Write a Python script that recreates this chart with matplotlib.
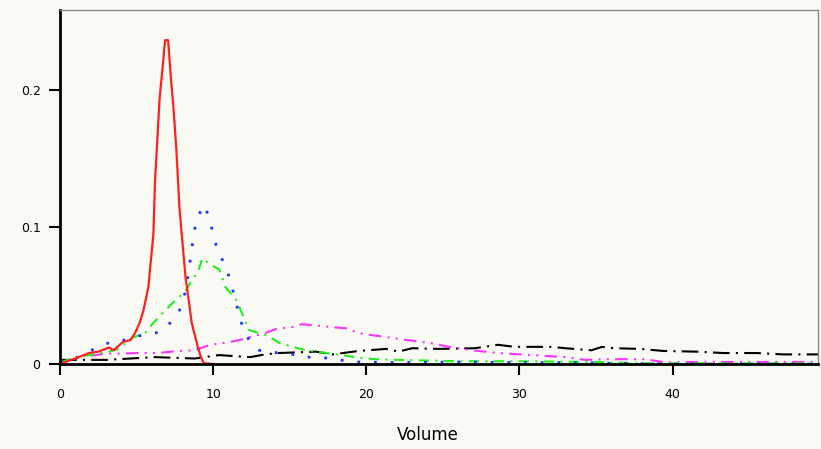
import matplotlib
matplotlib.use("Agg")
import matplotlib.pyplot as plt

# valores
red_x = [0, 0.2, 1.0, 1.9, 2.5, 3.2, 3.5, 4.1, 4.6, 4.9, 5.2, 5.45, 5.77, 6.1, 6.2, 6.5,
         6.75, 6.86, 7.06, 7.23, 7.4, 7.6, 7.8, 8.0, 8.2, 8.4, 8.6, 9.0, 9.2, 9.4, 10.0]
red_y = [0, 0.001, 0.004, 0.008, 0.009, 0.012, 0.010, 0.016, 0.0175, 0.0225, 0.030, 0.039,
         0.056, 0.095, 0.132, 0.193, 0.222, 0.236, 0.236, 0.210, 0.188, 0.156, 0.114, 0.088,
         0.063, 0.047, 0.030, 0.0125, 0.005, 0.0005, 0.0]

blue_x = [0, 1.0, 2.5, 3.2, 3.8, 4.9, 6.4, 6.9, 7.4, 7.8, 8.2, 8.4, 8.6, 8.9, 9.4, 9.7,
          10.3, 10.6, 11.0, 11.3, 11.6, 11.9, 12.2, 12.5, 13.0, 13.6, 14.3, 15.6, 16.1, 17,
          18.2, 19.3, 22, 26, 30, 34, 36, 40, 49.5]
blue_y = [0.002, 0.004, 0.0125, 0.0155, 0.016, 0.020, 0.023, 0.027, 0.032, 0.039, 0.053,
          0.067, 0.084, 0.105, 0.116, 0.108, 0.082, 0.076, 0.065, 0.053, 0.040, 0.028, 0.020,
          0.0155, 0.010, 0.009, 0.008, 0.0065, 0.005, 0.005, 0.003, 0.0015, 0.001, 0.0015,
          0.001, 0.001, 0.0005, 0, 0]

green_x = [0, 1.0, 1.9, 3.2, 3.8, 4.7, 5.6, 6.1, 6.7, 7.4, 8.2, 8.6, 9.0, 9.3, 9.9, 10.4,
           10.8, 11.5, 12.0, 12.3, 13.0, 13.5, 13.8, 14.3, 15.2, 16.1, 17.4, 18.4, 19.5,
           20.6, 22.1, 26, 30, 35, 38, 49.5]
green_y = [0.001, 0.005, 0.0065, 0.009, 0.011, 0.019, 0.023, 0.030, 0.037, 0.045, 0.053,
           0.061, 0.067, 0.077, 0.072, 0.069, 0.056, 0.047, 0.034, 0.025, 0.0225, 0.021,
           0.019, 0.0155, 0.0125, 0.010, 0.008, 0.0065, 0.0045, 0.0035, 0.003, 0.002, 0.002,
           0.0015, 0.0005, 0.0005]

magenta_x = [2.0, 2.9, 3.8, 5.1, 6.4, 7.7, 8.8, 9.8, 11.1, 11.9, 13.4, 14.1, 15.2, 15.8,
             16.8, 17.6, 18.7, 19.5, 20.4, 21.7, 22.6, 24.1, 25.4, 26.9, 28.6, 30.8, 33.0,
             34.3, 35.6, 38.2, 39.5, 41.6, 49.5]
magenta_y = [0.006, 0.0075, 0.0075, 0.008, 0.008, 0.0095, 0.010, 0.014, 0.016, 0.018,
             0.0225, 0.0255, 0.027, 0.029, 0.028, 0.027, 0.026, 0.0225, 0.021, 0.019, 0.0175,
             0.0155, 0.0125, 0.010, 0.008, 0.0065, 0.005, 0.003, 0.0035, 0.0035, 0.0012,
             0.0015, 0.0015]

black_x = [0, 3, 6.2, 8.8, 10.4, 12.4, 13.4, 14.3, 16.7, 17.8, 19.5, 21.3, 22.1, 23, 24.7,
           27.1, 28.6, 29.7, 32.1, 33, 34.7, 35.4, 36.2, 37.9, 39.4, 41.6, 43.3, 45.5, 47.2,
           49.5]
black_y = [0.003, 0.003, 0.005, 0.004, 0.0065, 0.005, 0.007, 0.008, 0.009, 0.007, 0.0095,
           0.011, 0.009, 0.0115, 0.011, 0.0115, 0.014, 0.0125, 0.0125, 0.0115, 0.010, 0.0125,
           0.0115, 0.011, 0.0095, 0.009, 0.008, 0.008, 0.007, 0.007]

x_ticks = [0, 10, 20, 30, 40]
y_ticks = [0, 0.1, 0.2]
y_tick_labels = ["0", "0.1", "0.2"]

bg = "#fafaf4"
fig = plt.figure(figsize=(8.21, 4.49), dpi=100, facecolor=bg)
ax = fig.add_axes([60 / 821, 85 / 449, 758 / 821, 354 / 449], facecolor=bg)

ax.plot(black_x, black_y, color="black", lw=1.5, ls=(0, (8, 3, 1, 3)))
ax.plot(magenta_x, magenta_y, color="#ff33ff", lw=1.5, ls=(0, (6, 3, 1, 3, 1, 3)))
ax.plot(green_x, green_y, color="#22ee22", lw=1.5, ls=(0, (5, 3, 1, 3)))
ax.plot(blue_x, blue_y, color="#2233ff", lw=2.0, ls=(0, (1, 5)))
ax.plot(red_x, red_y, color="#ff2020", lw=1.6)

ax.set_xlim(0, 49.5)
ax.set_ylim(0, 0.258)
ax.set_xticks(x_ticks)
ax.set_xticklabels([str(t) for t in x_ticks])
ax.set_yticks(y_ticks)
ax.set_yticklabels(y_tick_labels)
ax.tick_params(axis="both", direction="out", length=8, width=1.5, colors="black", labelsize=9)
ax.tick_params(axis="x", pad=9)
ax.tick_params(axis="y", pad=6)

for side in ["left", "bottom"]:
    ax.spines[side].set_linewidth(2)
    ax.spines[side].set_color("black")
for side in ["top", "right"]:
    ax.spines[side].set_linewidth(1)
    ax.spines[side].set_color("#888888")

ax.set_xlabel("Volume", fontsize=12)
ax.xaxis.set_label_coords(0.485, -0.175)

fig.savefig("out.png", dpi=100, facecolor=bg)
